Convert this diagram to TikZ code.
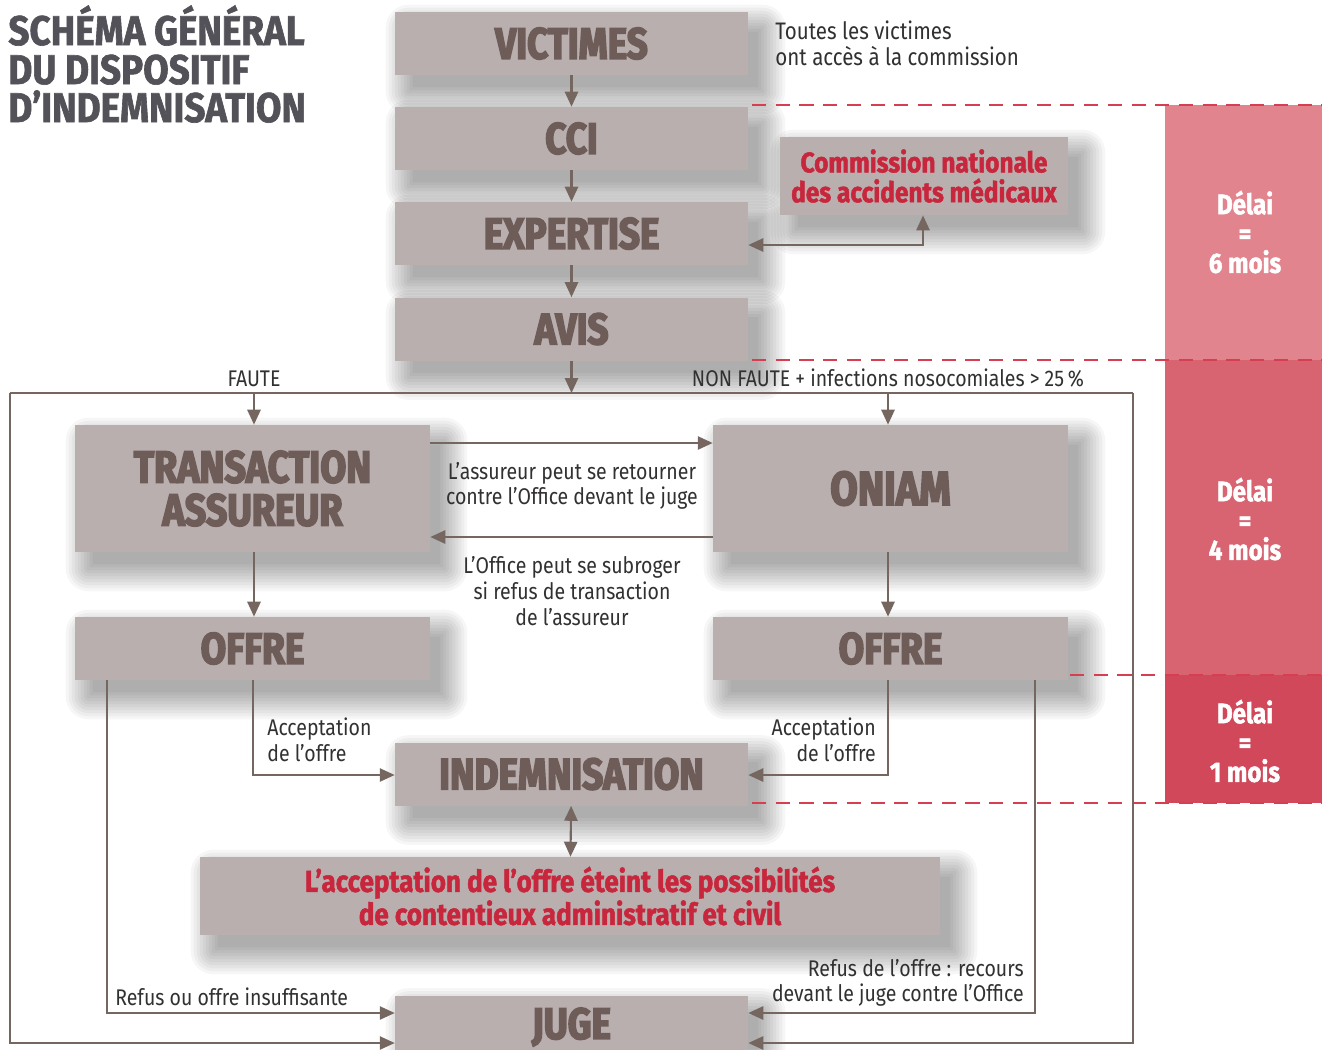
\documentclass[tikz,border=0pt]{standalone}
\usepackage{fontspec}
\setmainfont{Fira Sans}[FakeStretch=0.86]
\newfontfamily\heavy{Fira Sans}[FakeStretch=0.86, FakeBold=1.6]
\newfontfamily\titlef{Fira Sans}[FakeStretch=0.89, FakeBold=1.5]
\newfontfamily\blackf{Fira Sans}[FakeStretch=0.84, FakeBold=3.6]
\usetikzlibrary{arrows.meta,calc}
\definecolor{boxfill}{RGB}{185,175,174}
\definecolor{boxtext}{RGB}{110,92,88}
\definecolor{linec}{RGB}{118,102,96}
\definecolor{redtext}{RGB}{200,38,60}
\definecolor{reddash}{RGB}{214,62,82}
\definecolor{titlec}{RGB}{82,82,88}
\definecolor{bodyc}{RGB}{50,48,48}
\definecolor{delaiA}{RGB}{226,132,142}
\definecolor{delaiB}{RGB}{216,100,114}
\definecolor{delaiC}{RGB}{208,72,90}
\pgfdeclarelayer{shadowlayer}
\pgfsetlayers{shadowlayer,main}
\newcommand\softshade[1]{%
  \begin{pgfonlayer}{shadowlayer}
  \foreach \r in {-4,-1,...,23}{%
    \pgfmathsetlengthmacro\rc{max(\r,0.5)*0.02cm}%
    \fill[black, opacity=0.034, rounded corners=\rc]
      ($(#1.north west)+(14-\r,16-\r)$) rectangle ($(#1.south east)+(14+\r,16+\r)$);
  }
  \end{pgfonlayer}}
\begin{document}
\begin{tikzpicture}[x=0.02cm, y=-0.02cm,
  gbox/.style={fill=boxfill, text=boxtext, inner sep=0pt, align=center,
    font=\blackf\bfseries\fontsize{25}{27}\selectfont,
    minimum width=7.06cm, minimum height=1.26cm},
  redbox/.style={gbox, text=redtext, font=\heavy\bfseries\fontsize{16.2}{17}\selectfont},
  arr/.style={draw=linec, line width=1.2pt, -{Triangle[length=8.5pt,width=7.5pt]}},
  biarr/.style={draw=linec, line width=1.2pt, {Triangle[length=8.5pt,width=7.5pt]}-{Triangle[length=8.5pt,width=7.5pt]}},
  lin/.style={draw=linec, line width=1.2pt},
  lbl/.style={text=bodyc, font=\fontsize{12.9}{14.6}\selectfont, inner sep=0pt},
  delaydash/.style={draw=reddash, line width=1.3pt, dash pattern=on 8pt off 5.5pt},
  delaitxt/.style={text=white, font=\heavy\bfseries\fontsize{16}{16.7}\selectfont, align=center, inner sep=0pt},
  titletxt/.style={anchor=base west, text=titlec, inner sep=0pt, font=\titlef\bfseries\fontsize{23.6}{24}\selectfont}
]
\useasboundingbox (0,0) rectangle (1322,1049);
\begin{pgfonlayer}{shadowlayer}
\fill[white] (0,0) rectangle (1322,1049);
\end{pgfonlayer}

% delay bands
\fill[delaiA] (1165,105) rectangle (1322,360);
\fill[delaiB] (1165,360) rectangle (1322,675);
\fill[delaiC] (1165,675) rectangle (1322,803);
\node[delaitxt] (d6) at (1245,232) {Délai\\=\\6 mois};
\node[delaitxt] (d4) at (1245,519) {Délai\\=\\4 mois};
\node[delaitxt] (d1) at (1245,741) {Délai\\=\\1 mois};

% title
\node[titletxt] (title1) at (8,45) {SCHÉMA GÉNÉRAL};
\node[titletxt] (title2) at (8,84) {DU DISPOSITIF};
\node[titletxt] (title3) at (8,122) {D’INDEMNISATION};

% boxes
\node[gbox] (vic) at (571.5,43.5) {VICTIMES};
\node[gbox] (cci) at (571.5,138.5) {CCI};
\node[gbox] (exp) at (571.5,233.5) {EXPERTISE};
\node[gbox] (avis) at (571.5,329) {AVIS};
\node[redbox, minimum width=5.76cm, minimum height=1.56cm] (cnam) at (924,176)
  {Commission nationale\\des accidents médicaux};
\node[gbox, minimum width=7.1cm, minimum height=2.54cm, font=\blackf\bfseries\fontsize{25.5}{24.5}\selectfont] (trans) at (252.5,488.5) {TRANSACTION\\ASSUREUR};
\node[gbox, minimum width=7.1cm, minimum height=2.54cm, font=\blackf\bfseries\fontsize{27}{27}\selectfont] (oniam) at (890.5,488.5) {ONIAM};
\node[gbox, minimum width=7.1cm] (offL) at (252.5,648.5) {OFFRE};
\node[gbox, minimum width=7.1cm] (offR) at (890.5,648.5) {OFFRE};
\node[gbox] (indem) at (571.5,774) {INDEMNISATION};
\node[redbox, minimum width=14.8cm, minimum height=1.56cm, font=\heavy\bfseries\fontsize{17.2}{16.5}\selectfont] (acc) at (570,896)
  {L’acceptation de l’offre éteint les possibilités\\de contentieux administratif et civil};
\node[gbox] (juge) at (571.5,1027) {JUGE};

\softshade{vic}\softshade{cci}\softshade{exp}\softshade{avis}\softshade{cnam}
\softshade{trans}\softshade{oniam}\softshade{offL}\softshade{offR}
\softshade{indem}\softshade{acc}\softshade{juge}

% dashed delay lines
\draw[delaydash] (752,105) -- (1322,105);
\draw[delaydash] (752,360) -- (1322,360);
\draw[delaydash] (1070,675) -- (1322,675);
\draw[delaydash] (752,803) -- (1322,803);

% text beside
\node[lbl, anchor=west, align=left, font=\fontsize{13.6}{14.8}\selectfont] (tout) at (775,43) {Toutes les victimes\\ont accès à la commission};

% main column arrows
\draw[arr] (vic) -- (cci);
\draw[arr] (cci) -- (exp);
\draw[arr] (exp) -- (avis);
\coordinate (fc) at (571.5,393);
\draw[arr] (avis) -- (fc);

% commission link
\coordinate (ck) at (923,245);
\draw[biarr] (exp.east |- ck) -- (ck) -- (ck |- cnam.south);

% frame
\coordinate (fl) at (10,393);
\coordinate (fr) at (1133,393);
\coordinate (jl) at (10,1043);
\coordinate (jr) at (1133,1043);
\draw[lin] (fl) -- (fr);
\draw[arr] (fl) -- (jl) -- (juge.west |- jl);
\draw[arr] (fr) -- (jr) -- (juge.east |- jr);

% faute / non faute
\node[lbl] (faute) at (254,379) {FAUTE};
\node[lbl] (nonf) at (888,378) {NON FAUTE + infections nosocomiales > 25\,\%};
\coordinate (fa) at (254,393);
\coordinate (nf) at (888,393);
\draw[arr] (fa) -- (fa |- trans.north);
\draw[arr] (nf) -- (nf |- oniam.north);

% between transaction and oniam
\coordinate (t1) at (432,443);
\coordinate (t2) at (432,537);
\draw[arr] (trans.east |- t1) -- (oniam.west |- t1);
\draw[arr] (oniam.west |- t2) -- (trans.east |- t2);
\node[lbl, align=center] (l1) at (572,486) {L’assureur peut se retourner\\contre l’Office devant le juge};
\node[lbl, align=center] (l2) at (572,591) {L’Office peut se subroger\\si refus de transaction\\de l’assureur};

% to offers
\draw[arr] (trans.south -| fa) -- (offL.north -| fa);
\draw[arr] (oniam.south -| nf) -- (offR.north -| nf);

% acceptance
\coordinate (al) at (253,775);
\coordinate (ar) at (888,775);
\draw[arr] (offL.south -| al) -- (al) -- (indem.west |- al);
\draw[arr] (offR.south -| ar) -- (ar) -- (indem.east |- ar);
\node[lbl, anchor=west, align=left] (accl) at (267,740) {Acceptation\\de l’offre};
\node[lbl, anchor=east, align=right] (accr) at (876,740) {Acceptation\\de l’offre};

% refusals
\coordinate (rl) at (107,1013);
\coordinate (rr) at (1035,1013);
\draw[arr] (offL.south -| rl) -- (rl) -- (juge.west |- rl);
\draw[arr] (offR.south -| rr) -- (rr) -- (juge.east |- rr);
\node[lbl, anchor=west] (refl) at (115,997) {Refus ou offre insuffisante};
\node[lbl, anchor=east, align=right] (refr) at (1024,983) {Refus de l’offre : recours\\devant le juge contre l’Office};

% indemnisation <-> acceptation
\draw[biarr] (indem) -- (acc);
\end{tikzpicture}
\end{document}
